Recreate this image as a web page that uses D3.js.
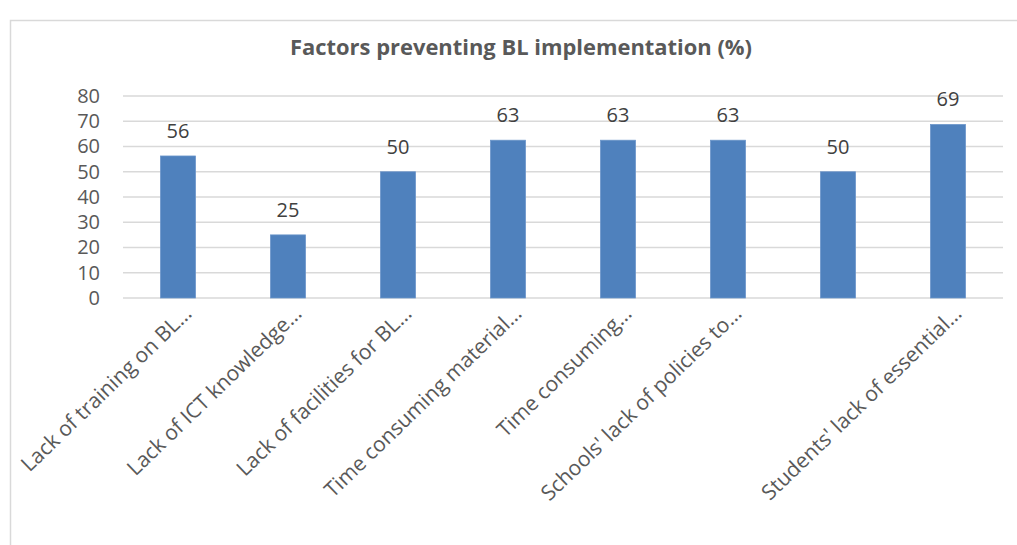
<!DOCTYPE html>
<html>
<head>
<meta charset="utf-8">
<script src="https://cdn.jsdelivr.net/npm/d3@7"></script>
<style>
  body { margin: 0; background: #fff; }
  svg { display: block; font-family: "Open Sans", sans-serif; }
</style>
</head>
<body>
<div id="chart"></div>
<script>
// Data
const categories = [
  "Lack of training on BL…",
  "Lack of ICT knowledge…",
  "Lack of facilities for BL…",
  "Time consuming material…",
  "Time consuming…",
  "Schools' lack of policies to…",
  "",
  "Students' lack of essential…"
];
const values = [56.25, 25, 50, 62.5, 62.5, 62.5, 50, 68.75];
const yTicks = [0, 10, 20, 30, 40, 50, 60, 70, 80];

const W = 1017, H = 545;
const margin = {top: 96, right: 14, bottom: 247, left: 123};
const width = W - margin.left - margin.right;
const height = H - margin.top - margin.bottom;

const svg = d3.select("#chart").append("svg")
  .attr("width", W)
  .attr("height", H);

// chart frame
svg.append("rect")
  .attr("x", 10.5).attr("y", 20.5)
  .attr("width", W + 20).attr("height", H + 20)
  .attr("fill", "#fff")
  .attr("stroke", "#d9d9d9")
  .attr("stroke-width", 1.5);

svg.append("text")
  .attr("x", 521)
  .attr("y", 55)
  .attr("text-anchor", "middle")
  .style("font-size", "21px")
  .style("font-weight", "700")
  .style("fill", "#595959")
  .attr("textLength", 462)
  .attr("lengthAdjust", "spacingAndGlyphs")
  .text("Factors preventing BL implementation (%)");

const g = svg.append("g")
  .attr("transform", `translate(${margin.left},${margin.top})`);

const x = d3.scaleBand()
  .domain(d3.range(categories.length))
  .range([0, width])
  .paddingInner(0.68)
  .paddingOuter(0.34);

const y = d3.scaleLinear()
  .domain([0, 80])
  .range([height, 0]);

// gridlines
g.selectAll(".grid")
  .data(yTicks)
  .enter().append("line")
  .attr("x1", 0).attr("x2", width)
  .attr("y1", d => y(d)).attr("y2", d => y(d))
  .attr("stroke", "#d9d9d9")
  .attr("stroke-width", 1.5);

// y axis labels
const yAxis = g.append("g")
  .call(d3.axisLeft(y).tickValues(yTicks).tickSize(0).tickPadding(23));
yAxis.select(".domain").remove();
yAxis.selectAll("text")
  .style("font-size", "20px")
  .style("fill", "#595959")
  .style("font-family", "Open Sans, sans-serif");

// bars
g.selectAll(".bar")
  .data(values)
  .enter().append("rect")
  .attr("class", "bar")
  .attr("x", (d, i) => x(i))
  .attr("y", d => y(d))
  .attr("width", x.bandwidth())
  .attr("height", d => height - y(d))
  .attr("fill", "#4f81bd")
  .attr("stroke", "#6d97cb")
  .attr("stroke-width", 0.75);

// value labels
g.selectAll(".val")
  .data(values)
  .enter().append("text")
  .attr("x", (d, i) => x(i) + x.bandwidth() / 2)
  .attr("y", d => y(d) - 18)
  .attr("text-anchor", "middle")
  .style("font-size", "20px")
  .style("fill", "#404040")
  .text(d => Math.round(d));

// category labels
g.selectAll(".cat")
  .data(categories)
  .enter().append("text")
  .attr("text-anchor", "end")
  .attr("transform", (d, i) => `translate(${x(i) + x.bandwidth() / 2 + 15},${height + 17}) rotate(-44)`)
  .style("font-size", "21px")
  .style("fill", "#595959")
  .text(d => d);
</script>
</body>
</html>
